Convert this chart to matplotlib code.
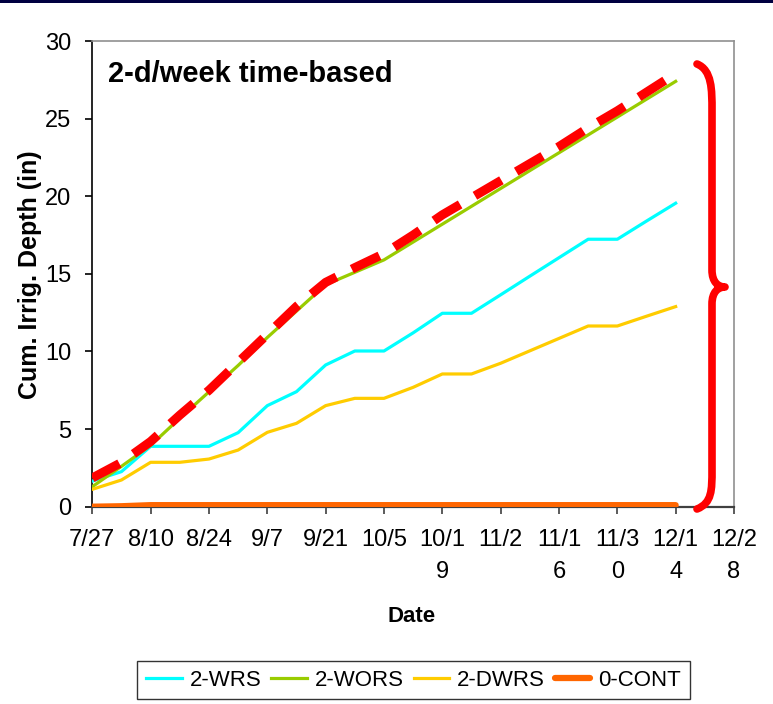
import datetime as dt
import matplotlib
matplotlib.use("Agg")
import matplotlib.pyplot as plt
from matplotlib.path import Path
from matplotlib.patches import PathPatch, Rectangle

# ---- data -------------------------------------------------------------
start = dt.date(2009, 7, 27)
n_weeks = 21
dates = [start + dt.timedelta(days=7 * i) for i in range(n_weeks)]

wrs = [1.65, 2.26, 3.89, 3.89, 3.89, 4.77, 6.51, 7.41, 9.13, 10.03, 10.03,
       11.2, 12.46, 12.46, 13.65, 14.85, 16.04, 17.23, 17.23, 18.4, 19.55]
wors = [1.29, 2.6, 3.95, 5.7, 7.4, 9.1, 10.9, 12.6, 14.3, 15.1, 15.9,
        17.05, 18.2, 19.35, 20.5, 21.65, 22.8, 23.95, 25.1, 26.25, 27.4]
dwrs = [1.12, 1.72, 2.86, 2.86, 3.07, 3.65, 4.79, 5.37, 6.51, 6.98, 6.98,
        7.69, 8.55, 8.55, 9.24, 10.04, 10.84, 11.64, 11.64, 12.27, 12.89]
cont = [0.0, 0.03, 0.1, 0.1, 0.1, 0.1, 0.1, 0.1, 0.1, 0.1, 0.1,
        0.1, 0.1, 0.1, 0.1, 0.1, 0.1, 0.1, 0.1, 0.1, 0.1]
upper = [1.85, 2.85, 4.2, 5.9, 7.5, 9.3, 11.1, 12.9, 14.45, 15.4, 16.3,
         17.5, 18.8, 19.9, 21.0, 22.1, 23.2, 24.4, 25.5, 26.7, 27.9]

series_names = ["2-WRS", "2-WORS", "2-DWRS", "0-CONT"]
tick_labels = ["7/27", "8/10", "8/24", "9/7", "9/21", "10/5", "10/1\n9",
               "11/2", "11/1\n6", "11/3\n0", "12/1\n4", "12/2\n8"]
y_ticks = [0, 5, 10, 15, 20, 25, 30]

# ---- figure -----------------------------------------------------------
W, H = 773, 704
fig = plt.figure(figsize=(W / 100, H / 100), dpi=100)
sans = ["Liberation Sans", "DejaVu Sans"]

# dark strip along the top edge
fig.patches.append(Rectangle((0, 1 - 3 / H), 1, 3 / H, transform=fig.transFigure,
                             facecolor="#000040", edgecolor="none", zorder=0))

ax = fig.add_axes([92.3 / W, 1 - 506.7 / H, (734 - 92.3) / W, (506.7 - 41) / H])

ax.plot(dates, wrs, color="#00FFFF", lw=2.3, label=series_names[0], zorder=3)
ax.plot(dates, wors, color="#99CC00", lw=2.3, label=series_names[1], zorder=3)
ax.plot(dates, dwrs, color="#FFCC00", lw=2.3, label=series_names[2], zorder=3)
ax.plot(dates, cont, color="#FF6600", lw=4.5, label=series_names[3], zorder=3,
        solid_capstyle="round")
ax.plot(dates, upper, color="#FF0000", lw=6.5, dashes=(3.4, 1.9), zorder=4,
        solid_capstyle="butt")

ax.set_xlim(start, start + dt.timedelta(days=154))
ax.set_ylim(0, 30)
xt = [start + dt.timedelta(days=14 * i) for i in range(12)]
ax.set_xticks(xt)
ax.set_xticklabels(tick_labels, fontfamily=sans, fontsize=17, linespacing=1.6,
                   va="top")
ax.set_yticks(y_ticks)
ax.set_yticklabels([str(v) for v in y_ticks], fontfamily=sans, fontsize=17)

ax.tick_params(axis="x", direction="out", length=5, width=1.2, color="#404040",
               pad=11)
ax.tick_params(axis="y", direction="out", length=5, width=1.2, color="black",
               pad=10)

for side in ("top", "right"):
    ax.spines[side].set_color("#909090")
    ax.spines[side].set_linewidth(1.2)
ax.spines["left"].set_color("black")
ax.spines["left"].set_linewidth(1.2)
ax.spines["bottom"].set_color("#404040")
ax.spines["bottom"].set_linewidth(1.6)

ax.text(0.024, 0.93, "2-d/week time-based", transform=ax.transAxes,
        fontsize=21, fontweight="bold", fontfamily=sans, va="center", ha="left")

fig.text(30 / W, 1 - 275 / H, "Cum. Irrig. Depth (in)", rotation=90,
         fontsize=18, fontweight="bold", fontfamily=sans, ha="center", va="center")
fig.text(412 / W, 1 - 617 / H, "Date", fontsize=16, fontweight="bold",
         fontfamily=sans, ha="center", va="center")

# curly brace to the right of the lines
def px(x, y):
    return (x / W, 1 - y / H)

verts = [px(697, 64),
         px(712, 70), px(712, 90), px(712, 110),
         px(712, 270),
         px(712, 282), px(718, 287), px(725, 287),
         px(718, 287), px(712, 292), px(712, 304),
         px(712, 470),
         px(712, 490), px(712, 503), px(697, 509)]
codes = [Path.MOVETO,
         Path.CURVE4, Path.CURVE4, Path.CURVE4,
         Path.LINETO,
         Path.CURVE4, Path.CURVE4, Path.CURVE4,
         Path.CURVE4, Path.CURVE4, Path.CURVE4,
         Path.LINETO,
         Path.CURVE4, Path.CURVE4, Path.CURVE4]
fig.patches.append(PathPatch(Path(verts, codes), transform=fig.transFigure,
                             facecolor="none", edgecolor="#FF0000", lw=5.5,
                             capstyle="round", joinstyle="round", zorder=5))

handles, labels = ax.get_legend_handles_labels()
leg = fig.legend(handles, labels, loc="center",
                 bbox_to_anchor=((137 + 690) / 2 / W, 1 - 680 / H),
                 ncol=4, frameon=True, fancybox=False, handlelength=1.6,
                 handletextpad=0.35, columnspacing=0.45, borderpad=0.4,
                 prop={"family": sans, "size": 16})
leg.get_frame().set_edgecolor("black")
leg.get_frame().set_linewidth(1.0)

fig.savefig("out.png", dpi=100)
